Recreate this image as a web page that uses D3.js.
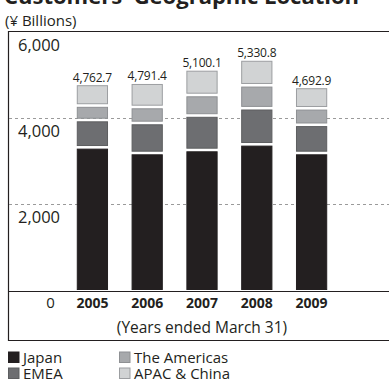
<!DOCTYPE html>
<html>
<head>
<meta charset="utf-8">
<script src="https://cdn.jsdelivr.net/npm/d3@7"></script>
<style>
    body{ margin:0; background:#fff; }
    svg{ display:block; }
</style>
</head>
<body>
<svg class="geoChart"></svg>
<script>
// data (¥ Billions)
const years = ["2005", "2006", "2007", "2008", "2009"];
const japan = [3318, 3186, 3256, 3388, 3186];
const emea = [635, 698, 802, 840, 656];
const americas = [337, 372, 477, 533, 384];
const apac = [472.7, 535.4, 565.1, 569.8, 466.9];
const totalLabels = ["4,762.7", "4,791.4", "5,100.1", "5,330.8", "4,692.9"];
const yTicks = [2000, 4000, 6000];
const seriesNames = ["Japan", "EMEA", "The Americas", "APAC & China"];

const font = "'Open Sans', sans-serif";

function drawChart(){
    const W = 389, H = 387;
    const svg = d3.select(".geoChart")
        .attr("width", W)
        .attr("height", H);

    const rows = years.map((yr, i) => ({
        year: yr,
        "Japan": japan[i],
        "EMEA": emea[i],
        "The Americas": americas[i],
        "APAC & China": apac[i],
        label: totalLabels[i]
    }));

    const fills = {"Japan": "#231f20", "EMEA": "#6d6e71", "The Americas": "#a7a9ac", "APAC & China": "#d1d3d4"};
    const strokes = {"Japan": "#231f20", "EMEA": "#5d5e60", "The Americas": "#8e9093", "APAC & China": "#9c9ea1"};

    const x = d3.scaleBand()
        .domain(years)
        .range([65, 339])
        .paddingInner(0.43)
        .paddingOuter(0.215);

    const y = d3.scaleLinear()
        .domain([0, 6000])
        .range([290, 32]);

    // title (cut off at the top edge)
    svg.append("text")
        .attr("x", 4)
        .attr("y", 4)
        .style("font-family", font)
        .style("font-size", "22px")
        .style("font-weight", "700")
        .style("fill", "#231f20")
        .text("Customers' Geographic Location");

    svg.append("text")
        .attr("x", 5)
        .attr("y", 25.5)
        .style("font-family", font)
        .style("font-size", "15px")
        .style("fill", "#231f20")
        .text("(¥ Billions)");

    // frame
    svg.append("path")
        .attr("d", `M${W + 5},31.5 H8.5 V340.5 H${W + 5}`)
        .attr("fill", "none")
        .attr("stroke", "#231f20")
        .attr("stroke-width", 1.2);

    // dashed grid
    svg.selectAll(".grid")
        .data(yTicks.filter(d => d < 6000))
        .enter().append("line")
        .attr("class", "grid")
        .attr("x1", 9)
        .attr("x2", W)
        .attr("y1", d => Math.round(y(d)) + 0.5)
        .attr("y2", d => Math.round(y(d)) + 0.5)
        .attr("stroke", "#9a9a9a")
        .attr("stroke-width", 1)
        .attr("stroke-dasharray", "3,3");

    // y labels sit under their gridline
    svg.selectAll(".ylab")
        .data(yTicks)
        .enter().append("text")
        .attr("class", "ylab")
        .attr("x", 18)
        .attr("y", d => y(d) + 18.5)
        .style("font-family", font)
        .style("font-size", "16.5px")
        .style("fill", "#231f20")
        .text(d => d3.format(",")(d));

    // stacked bars
    const stack = d3.stack().keys(seriesNames);
    const layers = stack(rows);
    const gap = 1.3;

    svg.selectAll(".layer")
        .data(layers)
        .enter().append("g")
        .attr("class", "layer")
        .each(function(layer){
            const key = layer.key;
            const isTop = key === "APAC & China";
            d3.select(this).selectAll("rect")
                .data(layer)
                .enter().append("rect")
                .attr("x", d => x(d.data.year) + 0.5)
                .attr("width", x.bandwidth() - 1)
                .attr("y", d => y(d[1]) + (isTop ? 0.5 : gap + 0.5))
                .attr("height", d => (y(d[0]) - (d[0] === 0 ? 0 : gap)) - (y(d[1]) + (isTop ? 0.5 : gap + 0.5)) - 0.5)
                .attr("fill", fills[key])
                .attr("stroke", strokes[key])
                .attr("stroke-width", 1);
        });

    // total labels
    svg.selectAll(".total")
        .data(rows)
        .enter().append("text")
        .attr("class", "total")
        .attr("x", d => x(d.year) + x.bandwidth() / 2)
        .attr("y", d => y(d["Japan"] + d["EMEA"] + d["The Americas"] + d["APAC & China"]) - 3.5)
        .attr("text-anchor", "middle")
        .style("font-family", font)
        .style("font-size", "12px")
        .style("letter-spacing", "-0.2px")
        .style("fill", "#231f20")
        .text(d => d.label);

    // baseline
    svg.append("line")
        .attr("x1", 8)
        .attr("x2", W)
        .attr("y1", 291.5)
        .attr("y2", 291.5)
        .attr("stroke", "#231f20")
        .attr("stroke-width", 1.2);

    // x axis labels
    svg.append("text")
        .attr("x", 50.5)
        .attr("y", 308)
        .attr("text-anchor", "middle")
        .style("font-family", font)
        .style("font-size", "15px")
        .style("fill", "#231f20")
        .text("0");

    svg.selectAll(".year")
        .data(years)
        .enter().append("text")
        .attr("class", "year")
        .attr("x", d => x(d) + x.bandwidth() / 2)
        .attr("y", 308)
        .attr("text-anchor", "middle")
        .style("font-family", font)
        .style("font-size", "14px")
        .style("font-weight", "700")
        .style("fill", "#231f20")
        .text(d => d);

    svg.append("text")
        .attr("x", 202)
        .attr("y", 333)
        .attr("text-anchor", "middle")
        .style("font-family", font)
        .style("font-size", "15.5px")
        .style("fill", "#231f20")
        .text("(Years ended March 31)");

    // legend
    const legend = svg.selectAll(".legend")
        .data(seriesNames)
        .enter().append("g")
        .attr("class", "legend")
        .attr("transform", (d, i) => `translate(${i < 2 ? 8 : 119},${i % 2 === 0 ? 351.5 : 367.5})`);

    legend.append("rect")
        .attr("x", 0.5)
        .attr("y", 0.5)
        .attr("width", 10.5)
        .attr("height", 10.5)
        .attr("fill", d => fills[d])
        .attr("stroke", d => strokes[d])
        .attr("stroke-width", 1);

    legend.append("text")
        .attr("x", 15)
        .attr("y", 11)
        .style("font-family", font)
        .style("font-size", "15px")
        .style("fill", "#231f20")
        .text(d => d);
}

drawChart();
</script>
</body>
</html>
